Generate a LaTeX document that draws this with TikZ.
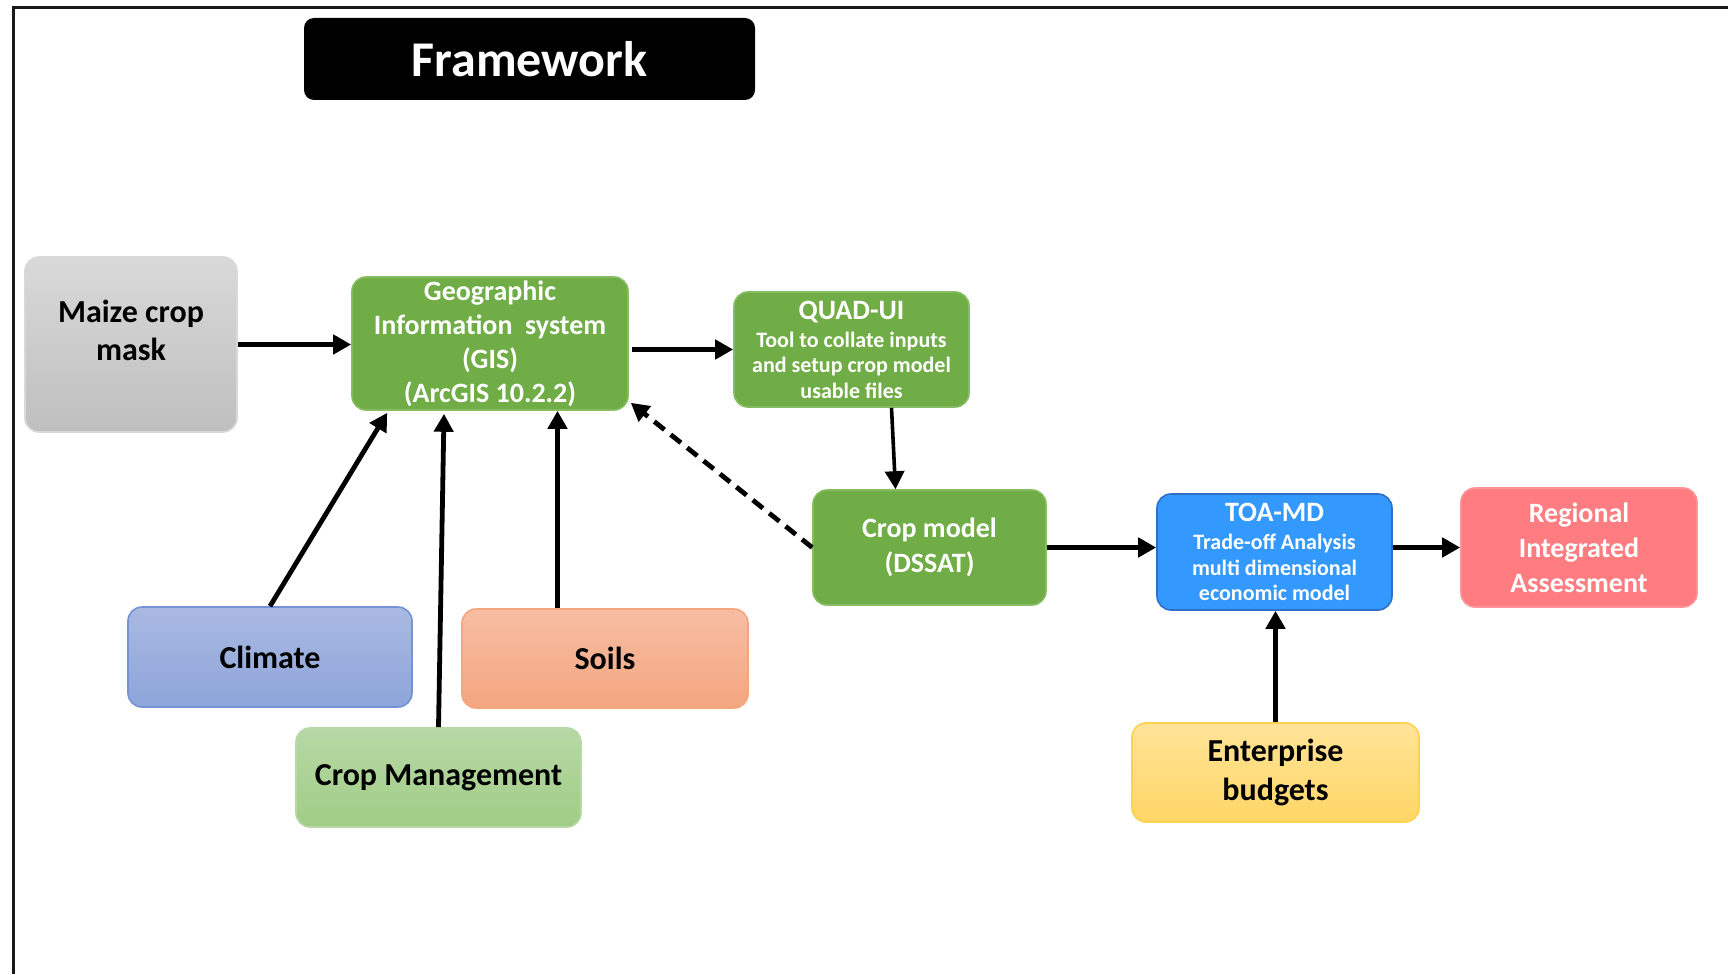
\documentclass[tikz,border=0pt]{standalone}
\usepackage{fontspec}
\setmainfont{Carlito}
\usetikzlibrary{arrows.meta,calc}
\definecolor{gisgreen}{HTML}{70AD47}
\definecolor{gisborder}{HTML}{86BC62}
\definecolor{toablue}{HTML}{3399FF}
\definecolor{toaborder}{HTML}{2F6FC8}
\definecolor{regred}{HTML}{FF7C80}
\definecolor{regborder}{HTML}{FF9397}
\definecolor{greytop}{HTML}{D9D9D9}
\definecolor{greybot}{HTML}{BFBFBF}
\definecolor{climtop}{HTML}{AAB9E2}
\definecolor{climbot}{HTML}{8DA5DA}
\definecolor{climborder}{HTML}{7393D6}
\definecolor{soiltop}{HTML}{F7BDA3}
\definecolor{soilbot}{HTML}{F4A67F}
\definecolor{mgmttop}{HTML}{B8D8A6}
\definecolor{mgmtbot}{HTML}{A0CD86}
\definecolor{enttop}{HTML}{FFE397}
\definecolor{entbot}{HTML}{FFD666}
\definecolor{entborder}{HTML}{FFD24D}
\newcommand{\subfs}{\fontsize{11}{12.7}\selectfont}
\begin{document}
\begin{tikzpicture}[x=0.5pt,y=-0.5pt,
  box/.style={rounded corners=7pt, inner sep=0pt, align=center, line width=0.8pt},
  bigtxt/.style={font=\bfseries\fontsize{16}{19.3}\selectfont},
  midtxt/.style={font=\bfseries\fontsize{14}{17}\selectfont, text=white},
  arr/.style={line width=2.4pt, -{Triangle[length=9pt,width=9.5pt]}},
]
\useasboundingbox (0,0) rectangle (1728,974);
\fill[white] (0,0) rectangle (1728,974);
% frame
\draw[line width=1.5pt, black!90] (13.5,974) -- (13.5,8) -- (1728,8);

% title
\node[box, rounded corners=5pt, fill=black, text=white, minimum width=225.5pt, minimum height=41pt,
  font=\bfseries\fontsize{25}{29}\selectfont] (title) at (529.5,59) {Framework};

% nodes
\node[box, bigtxt, top color=greytop, bottom color=greybot, draw=greytop, minimum width=106pt, minimum height=87.5pt] (maize) at (131,344.5) {Maize crop\\mask\\[-4.9pt]\mbox{}};
\node[box, midtxt, fill=gisgreen, draw=gisborder, minimum width=138pt, minimum height=66.5pt] (gis) at (490,343.5) {Geographic\\Information\ \ system\\(GIS)\\(ArcGIS 10.2.2)};
\node[box, fill=gisgreen, draw=gisborder, text=white, font=\bfseries\fontsize{14}{17}\selectfont, minimum width=117.5pt, minimum height=57.5pt] (quad) at (851.5,349.5)
  {QUAD-UI\\[-3pt]\subfs Tool to collate inputs\\[-4.3pt]\subfs and setup crop model\\[-4.3pt]\subfs usable files};
\node[box, fill=gisgreen, draw=gisborder, text=white, font=\bfseries\fontsize{14}{17.6}\selectfont, minimum width=116.5pt, minimum height=57.5pt] (crop) at (929.5,547.5) {Crop model\\(DSSAT)};
\node[box, fill=toablue, draw=toaborder, text=white, font=\bfseries\fontsize{14}{17}\selectfont, minimum width=117.5pt, minimum height=58pt] (toa) at (1274.5,552)
  {TOA-MD\\[-3pt]\subfs Trade-off Analysis\\[-4.3pt]\subfs multi dimensional\\[-4.3pt]\subfs economic model};
\node[box, fill=regred, draw=regborder, text=white, font=\bfseries\fontsize{14}{17.4}\selectfont, minimum width=118pt, minimum height=59.5pt] (reg) at (1579,547.5) {Regional\\Integrated\\Assessment};
\node[box, bigtxt, top color=climtop, bottom color=climbot, draw=climborder, minimum width=142pt, minimum height=50pt] (clim) at (270,657) {Climate};
\node[box, bigtxt, top color=soiltop, bottom color=soilbot, draw=soilbot, minimum width=143pt, minimum height=49.5pt] (soil) at (605,658.5) {Soils};
\node[box, bigtxt, top color=mgmttop, bottom color=mgmtbot, draw=mgmttop, minimum width=142.5pt, minimum height=49.5pt] (mgmt) at (438.5,777.5) {Crop Management};
\node[box, bigtxt, top color=enttop, bottom color=entbot, draw=entborder, minimum width=143.5pt, minimum height=49.5pt] (ent) at (1275.5,772.5) {Enterprise\\budgets};

% connectors
\draw[arr] (maize.east) -- (maize.east -| gis.west);
\draw[arr] ([xshift=1.5pt]gis.east |- quad.west) -- (quad.west);
\draw[arr, line width=1.8pt] ([xshift=20pt]quad.south) -- ([xshift=-17pt]crop.north);
\draw[arr, dashed, dash pattern=on 6.5pt off 4pt] (crop.west) -- ([xshift=1pt,yshift=4pt]gis.south east);
\draw[arr] (crop.east) -- (crop.east -| toa.west);
\draw[arr] (toa.east |- reg.west) -- (reg.west);
\draw[arr] (ent.north) -- (ent.north |- toa.south);
\draw[arr] (clim.north) -- ([xshift=18pt,yshift=-1pt]gis.south west);
\draw[arr] (mgmt.north) -- ([xshift=-23pt,yshift=-1.5pt]gis.south);
\draw[arr] ([xshift=-23.75pt]soil.north) -- ([xshift=-23.75pt]soil.north |- gis.south);
\end{tikzpicture}
\end{document}
